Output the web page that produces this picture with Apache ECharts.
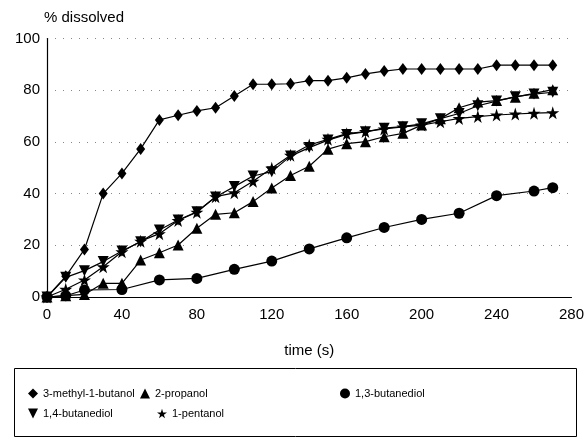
<!DOCTYPE html>
<html><head><meta charset="utf-8">
<script src="https://cdn.jsdelivr.net/npm/echarts@6/dist/echarts.min.js"></script>
<style>html,body{margin:0;padding:0;background:#fff}#c{width:587px;height:442px}</style>
</head><body><div id="c"></div>
<script>
const times = [0,10,20,30,40,50,60,70,80,90,100,110,120,130,140,150,160,170,180,190,200,210,220,230,240,250,260,270];
const timesButanediol13 = [0,10,20,40,60,80,100,120,140,160,180,200,220,240,260,270];
const methylButanol = [0,8,18.4,40,47.8,57.3,68.5,70.3,72,73.2,77.8,82.3,82.3,82.5,83.7,83.7,84.8,86.3,87.4,88.2,88.2,88.2,88.2,88.2,89.7,89.7,89.7,89.7];
const propanol2 = [0,0.5,1,5.3,5.3,14.3,17.1,20.1,26.6,32,32.6,36.9,42.2,47,50.6,57.2,59.3,60.1,62,63.3,66.5,69,73.2,75.4,76,77.3,78.8,80.2];
const butanediol13 = [0,0.5,2.7,2.9,6.6,7.2,10.7,13.9,18.6,22.9,26.9,30,32.4,39.2,41,42.3];
const butanediol14 = [0,7.6,10.2,13.7,17.8,21.4,25.9,29.8,33,38.7,42.7,46.8,48.5,54.5,57.8,60.7,62.9,63.9,65.3,65.9,67,69,71,74,75.8,77.5,78.5,79.2];
const pentanol1 = [0,3,6.6,11.7,17.5,21.6,24.5,29.6,32.8,38.8,40.3,44.8,49.8,54.8,58.8,61,63.2,64,65,65.8,66.5,67.8,69.1,69.8,70.4,70.8,71.1,71.3];
const names = ['3-methyl-1-butanol','2-propanol','1,3-butanediol','1,4-butanediol','1-pentanol'];
const xTicks = {min:0,max:280,interval:40};
const yTicks = {min:0,max:100,interval:20};

const STAR = 'path://M50,0 L61,35 L98,35 L68,57 L79,91 L50,70 L21,91 L32,57 L2,35 L39,35 Z';
const DOWN = 'path://M0,0 L10,0 L5,10 Z';
const pairs = (t, v) => t.map((x, i) => [x, v[i]]);
function line(name, t, v, symbol, size, extra) {
  return Object.assign({
    name, type:'line', data:pairs(t, v), symbol, symbolSize:size, showAllSymbol:true,
    lineStyle:{color:'#000', width:1.2}, itemStyle:{color:'#000', borderWidth:0}, z:3, animation:false
  }, extra || {});
}
const FONT = 'Liberation Sans, Arial, sans-serif';
const ts = {fontFamily:FONT, color:'#000', fontSize:15};
const legendBase = {orient:'horizontal', itemWidth:10, itemHeight:10, padding:0, itemGap:10,
  textStyle:{fontFamily:FONT, color:'#000', fontSize:11}, selectedMode:false};
const chart = echarts.init(document.getElementById('c'), null, {renderer:'canvas'});
chart.setOption({
  animation:false,
  backgroundColor:'#fff',
  grid:{left:47, right:15, top:38.5, bottom:145, containLabel:false},
  xAxis:{type:'value', min:xTicks.min, max:xTicks.max, interval:xTicks.interval,
    name:'time (s)', nameLocation:'middle', nameGap:46,
    nameTextStyle:{fontFamily:FONT, color:'#000', fontSize:15},
    axisLine:{lineStyle:{color:'#000', width:1.2}}, axisTick:{show:false},
    axisLabel:Object.assign({margin:10}, ts), splitLine:{show:false}},
  yAxis:{type:'value', min:yTicks.min, max:yTicks.max, interval:yTicks.interval,
    name:'% dissolved', nameLocation:'end', nameGap:13,
    nameTextStyle:{fontFamily:FONT, color:'#000', fontSize:15, align:'left', padding:[0,0,0,-3]},
    axisLine:{show:true, lineStyle:{color:'#000', width:1.2}}, axisTick:{show:false},
    axisLabel:Object.assign({margin:7}, ts),
    splitLine:{show:true, lineStyle:{color:'#888', width:1, type:[1,7]}}},
  legend:[
    Object.assign({left:28, top:388, data:[{name:names[0], icon:'diamond'}]}, legendBase),
    Object.assign({left:140, top:388, data:[{name:names[1], icon:'triangle'}]}, legendBase),
    Object.assign({left:340, top:388, data:[{name:names[2], icon:'circle'}]}, legendBase),
    Object.assign({left:28, top:408, data:[{name:names[3], icon:DOWN}]}, legendBase),
    Object.assign({left:157, top:408, data:[{name:names[4], icon:STAR}]}, legendBase)
  ],
  graphic:[{type:'rect', shape:{x:14.5, y:368.5, width:562, height:68}, style:{fill:'none', stroke:'#000', lineWidth:1}, silent:true}],
  series:[
    line(names[0], times, methylButanol, 'diamond', [9,12]),
    line(names[1], times, propanol2, 'triangle', 11),
    line(names[2], timesButanediol13, butanediol13, 'circle', 11),
    line(names[3], times, butanediol14, DOWN, 11),
    line(names[4], times, pentanol1, STAR, 13)
  ]
});
</script></body></html>
